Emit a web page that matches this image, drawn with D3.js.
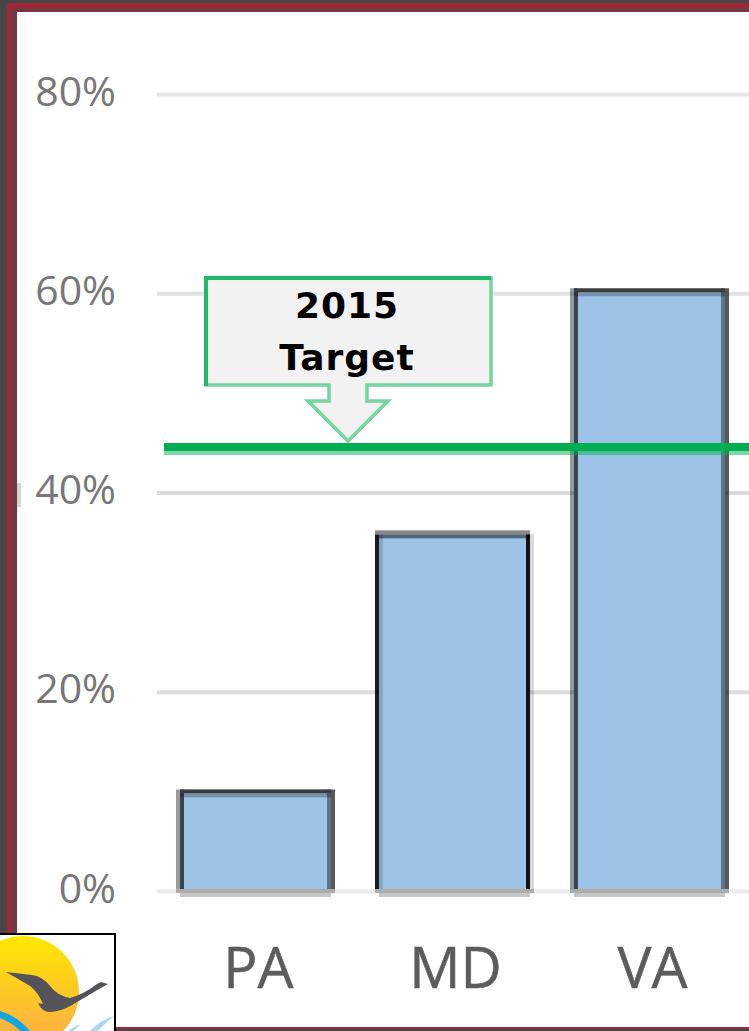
<!DOCTYPE html>
<html lang="en">
<head>
<title>2015 Target</title>
<script src="https://d3js.org/d3.v7.min.js"></script>
<style>
    html, body { margin: 0; padding: 0; background: #fff; }
    svg { display: block; }
</style>
</head>
<body>
<div id="chart_data"></div>
<script>
    // values
    var states = ["PA", "MD", "VA"];
    var shares = [10, 36, 60.3];
    var tickValues = [0, 20, 40, 60, 80];
    var targetValue = 44.57;
    var calloutLines = ["2015", "Target"];

    var pageWidth = 749, pageHeight = 1031;
    var labelFont = "'Open Sans', sans-serif";

    var svg = d3.select("#chart_data")
      .append("svg")
        .attr("width", pageWidth)
        .attr("height", pageHeight);

    // y scale: 0% sits at 891, 80% at 94
    var y = d3.scaleLinear().domain([0, 80]).range([891, 94]);

    // band scale runs past the right edge, the picture is cropped there
    var x = d3.scaleBand()
      .domain(states)
      .range([157, 157 + 3 * 197])
      .paddingInner(0.2335)
      .paddingOuter(0.1168);

    // dark frame with a double red border
    svg.append("rect").attr("width", pageWidth).attr("height", pageHeight).attr("fill", "#474747");
    svg.append("rect").attr("x", 7).attr("y", 3).attr("width", 760).attr("height", 1026).attr("rx", 3).attr("fill", "#a0263a");
    svg.append("rect").attr("x", 13).attr("y", 9).attr("width", 750).attr("height", 1018).attr("fill", "#4d4a4b");
    svg.append("rect").attr("x", 16).attr("y", 11).attr("width", 750).attr("height", 1016).attr("fill", "#a0263a");
    svg.append("rect").attr("x", 17).attr("y", 12).attr("width", 750).attr("height", 1015).attr("fill", "#fff");
    svg.append("rect").attr("x", 17).attr("y", 483).attr("width", 4).attr("height", 24).attr("fill", "#d4d4d4");

    // gridlines and percent labels
    var gridColor = { 0: "#ececec", 20: "#dcdcdc", 40: "#dadada", 60: "#e2e2e2", 80: "#e6e6e6" };
    svg.append("g")
      .attr("transform", "translate(157,0)")
      .call(d3.axisLeft(y).tickValues(tickValues).tickSize(-(pageWidth - 157)).tickPadding(41).tickFormat(function(d) { return d + "%"; }))
      .call(function(g) {
        g.select(".domain").remove();
        g.selectAll(".tick line")
          .attr("stroke", function(d) { return gridColor[d]; })
          .attr("stroke-width", 4);
        g.selectAll(".tick text")
          .attr("y", -2)
          .attr("fill", "#777")
          .style("font-family", labelFont)
          .style("font-size", "41px");
      });

    // MD sits 2px to the right and its edges are the dark ones
    function barShift(d) { return d === "MD" ? 2 : 0; }
    function edgeAlpha(d, inner) {
      if (d === "MD") return inner ? 0.15 : 0.9;
      return inner ? 0.65 : 0.4;
    }
    function barTop(i) { return y(shares[i]); }

    var bars = svg.append("g").selectAll("g")
      .data(states)
      .enter().append("g");

    // fill
    bars.append("rect")
      .attr("x", function(d) { return x(d) + barShift(d); })
      .attr("y", function(d, i) { return barTop(i) + 2; })
      .attr("width", x.bandwidth())
      .attr("height", function(d, i) { return y(0) - 2 - barTop(i) - 2; })
      .attr("fill", "#9dc3e6");

    // the outline is doubled, the picture was resampled: one edge 2px left, one 2px right
    [-2, 2].forEach(function(off) {
      bars.append("path")
        .attr("d", function(d, i) {
          var left = x(d) + barShift(d) + off;
          var top = barTop(i) + (d === "MD" ? 2 : -2);
          var p = d3.path();
          p.moveTo(left, y(0) - 2);
          p.lineTo(left, top);
          p.moveTo(left + x.bandwidth(), top);
          p.lineTo(left + x.bandwidth(), y(0) - 2);
          return p.toString();
        })
        .attr("fill", "none")
        .attr("stroke", "#000")
        .attr("stroke-opacity", function(d) { return edgeAlpha(d, off > 0); })
        .attr("stroke-width", 4);
    });

    // top edge: dark row above, thin blue-grey row below
    bars.append("rect")
      .attr("x", function(d) { return x(d) + (d === "MD" ? -2 : 0); })
      .attr("y", function(d, i) { return barTop(i) - 2; })
      .attr("width", function(d) { return x.bandwidth() + (d === "MD" ? 4 : 0); })
      .attr("height", 4)
      .attr("fill", function(d) { return d === "MD" ? "#888" : "#3c3c3c"; });
    bars.append("rect")
      .attr("x", function(d) { return x(d) + barShift(d); })
      .attr("y", function(d, i) { return barTop(i) + 2; })
      .attr("width", x.bandwidth())
      .attr("height", 4)
      .attr("fill", "#000")
      .attr("fill-opacity", function(d) { return d === "MD" ? 0.48 : 0.25; });

    // bottom edge on the 0% line
    bars.append("rect")
      .attr("x", function(d) { return x(d) + barShift(d) - 4; })
      .attr("y", y(0) - 2)
      .attr("width", x.bandwidth() + 8)
      .attr("height", 4)
      .attr("fill", "#acacac");
    bars.append("rect")
      .attr("x", function(d) { return x(d) + barShift(d); })
      .attr("y", y(0) + 2)
      .attr("width", x.bandwidth())
      .attr("height", 4)
      .attr("fill", "#c6c6c6");

    // category labels
    svg.append("g")
      .attr("transform", "translate(0,891)")
      .call(d3.axisBottom(x).tickSize(0))
      .call(function(g) {
        g.select(".domain").remove();
        g.selectAll(".tick text")
          .attr("y", 97)
          .attr("dy", 0)
          .attr("dx", 3)
          .attr("fill", "#5c5c5c")
          .attr("stroke", "#5c5c5c")
          .attr("stroke-width", 0.5)
          .style("font-family", labelFont)
          .style("font-size", "57px");
      });

    // target line, solid row and a paler row under it
    svg.append("line")
      .attr("x1", 164).attr("x2", pageWidth)
      .attr("y1", y(targetValue)).attr("y2", y(targetValue))
      .attr("stroke", "#00b050").attr("stroke-width", 8);
    svg.append("line")
      .attr("x1", 164).attr("x2", pageWidth)
      .attr("y1", y(targetValue) + 6).attr("y2", y(targetValue) + 6)
      .attr("stroke", "#00b050").attr("stroke-opacity", 0.5).attr("stroke-width", 4);

    // down arrow callout
    var cx = 348;
    var calloutPath = d3.path();
    calloutPath.moveTo(206, 278);
    calloutPath.lineTo(491, 278);
    calloutPath.lineTo(491, 385);
    calloutPath.lineTo(367, 385);
    calloutPath.lineTo(367, 401);
    calloutPath.lineTo(388, 401);
    calloutPath.lineTo(cx, 441);
    calloutPath.lineTo(308, 401);
    calloutPath.lineTo(329, 401);
    calloutPath.lineTo(329, 385);
    calloutPath.lineTo(206, 385);
    calloutPath.closePath();
    svg.append("path")
      .attr("d", calloutPath.toString())
      .attr("fill", "#f2f2f2")
      .attr("stroke", "#74d4a2")
      .attr("stroke-width", 3.5);
    svg.append("path")
      .attr("d", "M206,386V278H491")
      .attr("fill", "none")
      .attr("stroke", "#22b86c")
      .attr("stroke-width", 4);

    svg.append("g").selectAll("text")
      .data(calloutLines)
      .enter().append("text")
        .attr("x", cx - 1)
        .attr("y", function(d, i) { return 318 + i * 52; })
        .attr("text-anchor", "middle")
        .attr("fill", "#000")
        .style("font-family", "'DejaVu Sans', sans-serif")
        .style("font-weight", "bold")
        .style("font-size", "36px")
        .style("letter-spacing", "1px")
        .text(function(d) { return d; });

    // logo in the bottom left corner
    var logo = svg.append("g");
    logo.append("clipPath").attr("id", "logoClip")
      .append("rect").attr("x", 0).attr("y", 935).attr("width", 114).attr("height", 96);
    var sunGrad = svg.append("defs").append("linearGradient")
      .attr("id", "sunGrad").attr("x1", 0).attr("y1", 0).attr("x2", 0).attr("y2", 1);
    sunGrad.append("stop").attr("offset", "0%").attr("stop-color", "#ffe800");
    sunGrad.append("stop").attr("offset", "100%").attr("stop-color", "#fba94a");

    logo.append("rect")
      .attr("x", -2).attr("y", 934).attr("width", 117).attr("height", 99)
      .attr("fill", "#fff").attr("stroke", "#000").attr("stroke-width", 2);
    var art = logo.append("g").attr("clip-path", "url(#logoClip)");
    art.append("circle").attr("cx", 23).attr("cy", 992).attr("r", 56).attr("fill", "url(#sunGrad)");
    art.append("path")
      .attr("d", "M-2,1014 Q14,1018 27,1033")
      .attr("fill", "none").attr("stroke", "#12a5e2").attr("stroke-width", 7);
    art.append("path")
      .attr("d", "M66,1033 Q72,1027 81,1024 Q74,1030 72,1033Z M88,1033 Q100,1020 114,1016 Q104,1024 96,1033Z")
      .attr("fill", "#a8d8ee");
    art.append("path")
      .attr("d", "M6,972 L32,975 Q42,976 50,986 Q58,996 70,998 Q84,994 97,984 L101,982 L108,984 L99,989 Q84,998 72,1005 Q60,1012 50,1012 Q42,1012 38,1003 L43,1004 Q38,992 30,986 Q20,980 6,972Z")
      .attr("fill", "#55535a");
</script>
</body>
</html>
